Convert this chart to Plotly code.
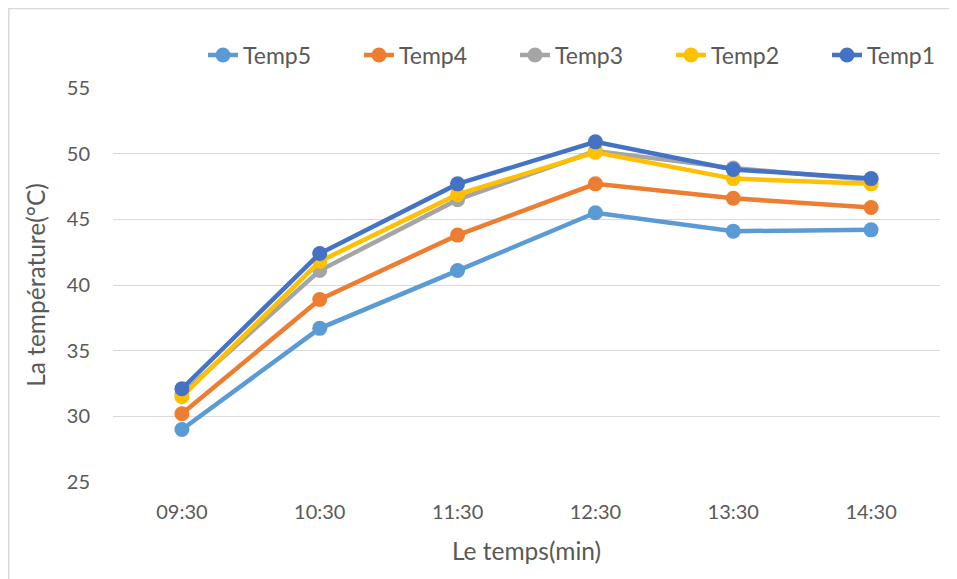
import plotly.graph_objects as go

times = ["09:30", "10:30", "11:30", "12:30", "13:30", "14:30"]
temp1 = [32.1, 42.4, 47.7, 50.9, 48.8, 48.1]
temp2 = [31.5, 41.8, 46.9, 50.1, 48.1, 47.7]
temp3 = [31.7, 41.1, 46.5, 50.2, 48.9, 48.0]
temp4 = [30.2, 38.9, 43.8, 47.7, 46.6, 45.9]
temp5 = [29.0, 36.7, 41.1, 45.5, 44.1, 44.2]

series = [
    ("Temp5", temp5, "#5B9BD5"),
    ("Temp4", temp4, "#ED7D31"),
    ("Temp3", temp3, "#A5A5A5"),
    ("Temp2", temp2, "#FFC000"),
    ("Temp1", temp1, "#4472C4"),
]

FONT = "Lato"
fig = go.Figure()
for name, vals, col in series:
    fig.add_trace(go.Scatter(
        x=times, y=vals, name=name, mode="lines+markers",
        line=dict(color=col, width=4.5),
        marker=dict(color=col, size=15),
    ))

W, H = 949, 571
L, R, T, B = 105, 17, 80, 97
pw, ph = W - L - R, H - T - B

def px(x):
    return (x - L) / pw

def py(y):
    return (H - B - y) / ph

fig.update_layout(
    width=W, height=H,
    margin=dict(l=L, r=R, t=T, b=B, autoexpand=False),
    paper_bgcolor="white", plot_bgcolor="white",
    font=dict(family=FONT, size=20, color="#595959"),
    legend=dict(orientation="h", x=px(975), xanchor="right", y=py(47), yanchor="middle",
                font=dict(size=23, color="#595959"), traceorder="normal",
                entrywidth=111, entrywidthmode="pixels"),
    xaxis=dict(type="category", range=[-0.5, 5.5], showgrid=False, zeroline=False,
               showline=False, ticks="", ticklabelstandoff=16,
               title=dict(text="Le temps(min)", font=dict(size=24.5, color="#595959"), standoff=20)),
    yaxis=dict(range=[25, 55], dtick=5, showgrid=True, gridcolor="#D9D9D9", gridwidth=1.3,
               zeroline=False, showline=False, ticks="", ticklabelstandoff=22,
               title=dict(text="La température(°C)", font=dict(size=24.5, color="#595959"), standoff=14)),
    shapes=[
        dict(type="line", xref="paper", yref="paper", x0=px(0), x1=px(W + 5), y0=py(0.5), y1=py(0.5),
             line=dict(color="#D9D9D9", width=1.5)),
        dict(type="line", xref="paper", yref="paper", x0=px(0.75), x1=px(0.75), y0=py(0), y1=py(H + 5),
             line=dict(color="#D9D9D9", width=1.5)),
    ],
)

fig.write_html("out.html")
